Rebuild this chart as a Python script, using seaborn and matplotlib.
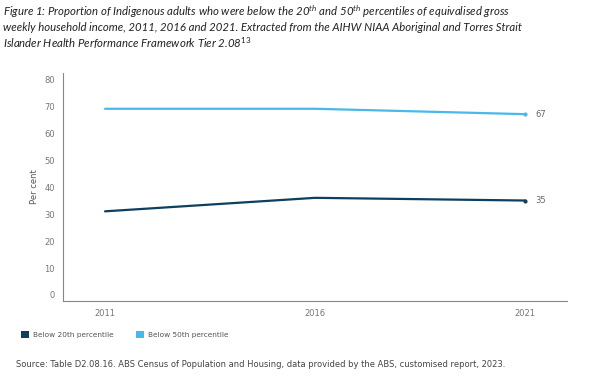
import matplotlib
matplotlib.use("Agg")
import matplotlib.pyplot as plt
import seaborn as sns
import pandas as pd
from matplotlib.patches import Patch

years = [2011, 2016, 2021]
below_20th = [31, 36, 35]
below_50th = [69, 69, 67]
series_names = ["Below 20th percentile", "Below 50th percentile"]
colors = ["#0d3f5f", "#4ab8e8"]

df = pd.DataFrame({
    "year": years * 2,
    "value": below_20th + below_50th,
    "series": [series_names[0]] * 3 + [series_names[1]] * 3,
})

sns.set_theme(style="white")
plt.rcParams['font.family'] = ['DejaVu Sans']
plt.rcParams['mathtext.fontset'] = 'custom'
plt.rcParams['mathtext.rm'] = 'Lato'
plt.rcParams['mathtext.it'] = 'Lato:italic'

fig = plt.figure(figsize=(5.89, 3.79), dpi=100)
ax = fig.add_axes([0.107, 0.206, 0.856, 0.601])

sns.lineplot(data=df, x="year", y="value", hue="series", palette=colors,
             ax=ax, legend=False, linewidth=1.6, marker="o", markersize=3,
             markevery=[2], markeredgewidth=0)

for vals, c in zip([below_20th, below_50th], colors):
    ax.text(years[-1] + 0.25, vals[-1], f"{vals[-1]}", fontsize=6, color="#666666",
            va="center", ha="left")

ax.set_xlim(2010, 2022)
ax.set_ylim(-2.2, 82.2)
ax.set_xticks(years)
ax.set_xticklabels([str(y) for y in years])
ax.set_yticks(range(0, 81, 10))
ax.tick_params(axis="both", labelsize=6, colors="#777777", length=0, pad=6)
ax.set_xlabel("")
ax.set_ylabel("Per cent", fontsize=6, color="#555555", labelpad=4)
for s in ["top", "right"]:
    ax.spines[s].set_visible(False)
for s in ["left", "bottom"]:
    ax.spines[s].set_color("#888888")
    ax.spines[s].set_linewidth(0.8)

handles = [Patch(facecolor=c, edgecolor="none") for c in colors]
fig.legend(handles, series_names, loc="center left", bbox_to_anchor=(0.025, 0.118),
           ncol=2, frameon=False, fontsize=5.3, handlelength=1.1, handleheight=1.1,
           columnspacing=3.0, handletextpad=0.5, labelcolor="#555555")

fig.text(0.005, 0.99,
         "Figure 1: Proportion of Indigenous adults who were below the 20$^{th}$ and 50$^{th}$ percentiles of equivalised gross\n"
         "weekly household income, 2011, 2016 and 2021. Extracted from the AIHW NIAA Aboriginal and Torres Strait\n"
         "Islander Health Performance Framework Tier 2.08$^{13}$",
         fontsize=8.2, family="Lato", style="italic", color="#222222", va="top", ha="left",
         linespacing=1.2)

fig.text(0.028, 0.037,
         "Source: Table D2.08.16. ABS Census of Population and Housing, data provided by the ABS, customised report, 2023.",
         fontsize=6, color="#444444", va="center", ha="left")

fig.savefig("out.png", dpi=100, facecolor="white")
